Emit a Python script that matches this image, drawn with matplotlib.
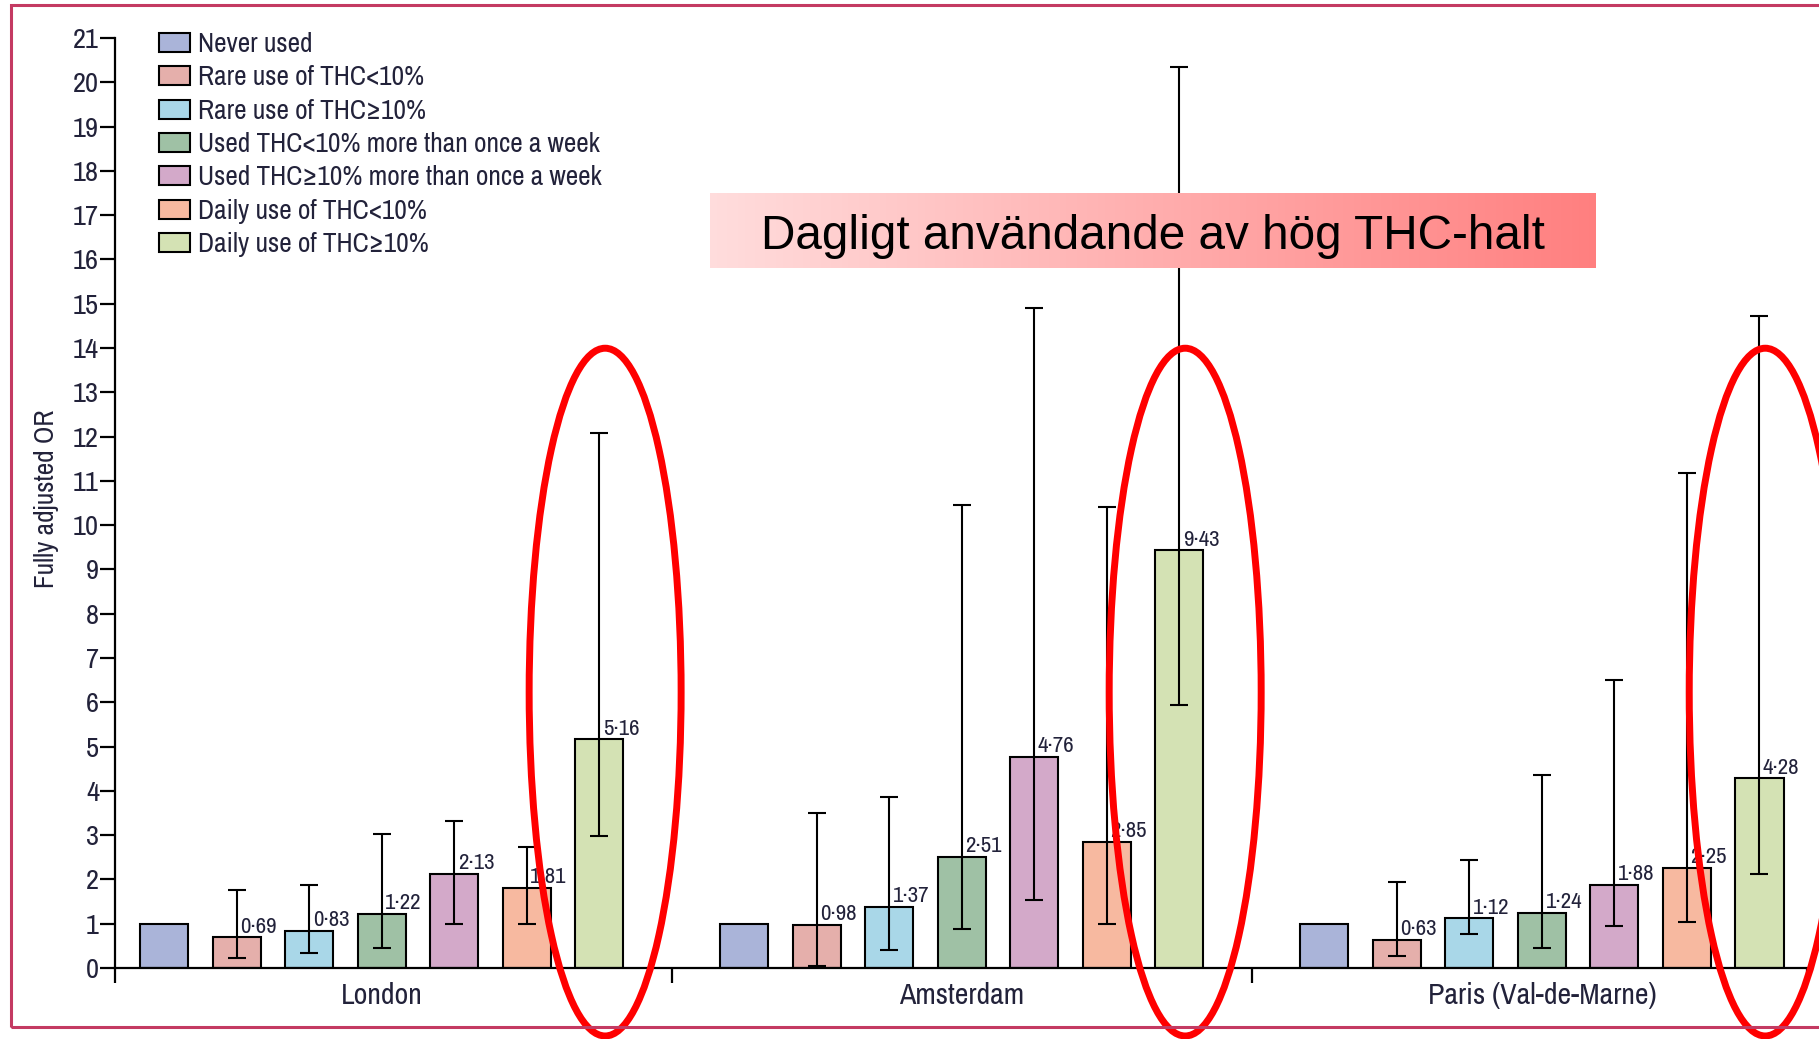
import numpy as np
import matplotlib
matplotlib.use("Agg")
import matplotlib.pyplot as plt
from matplotlib.patches import Ellipse, Rectangle, Patch
from matplotlib import font_manager as fm

# ---------------- data ----------------
cities = ["London", "Amsterdam", "Paris (Val-de-Marne)"]
series = ["Never used", "Rare use of THC<10%", "Rare use of THC\u226510%",
          "Used THC<10% more than once a week", "Used THC\u226510% more than once a week",
          "Daily use of THC<10%", "Daily use of THC\u226510%"]
colors = ["#AAB4D9", "#E5AFAB", "#A9D7E8", "#9FC1A5", "#D3A9C9", "#F7B9A0", "#D4E2B4"]

or_london = [1.00, 0.69, 0.83, 1.22, 2.13, 1.81, 5.16]
lo_london = [np.nan, 0.22, 0.35, 0.46, 1.00, 1.00, 2.97]
hi_london = [np.nan, 1.77, 1.88, 3.03, 3.32, 2.73, 12.08]

or_amsterdam = [1.00, 0.98, 1.37, 2.51, 4.76, 2.85, 9.43]
lo_amsterdam = [np.nan, 0.05, 0.41, 0.88, 1.53, 1.00, 5.95]
hi_amsterdam = [np.nan, 3.50, 3.87, 10.45, 14.90, 10.40, 20.35]

or_paris = [1.00, 0.63, 1.12, 1.24, 1.88, 2.25, 4.28]
lo_paris = [np.nan, 0.26, 0.76, 0.46, 0.94, 1.05, 2.12]
hi_paris = [np.nan, 1.95, 2.44, 4.35, 6.50, 11.18, 14.72]

yticks = list(range(0, 22))
annotation = "Dagligt anv\u00e4ndande av h\u00f6g THC-halt"

ORs = np.array([or_london, or_amsterdam, or_paris])
LOs = np.array([lo_london, lo_amsterdam, lo_paris])
HIs = np.array([hi_london, hi_amsterdam, hi_paris])

# ---------------- fonts ----------------
avail = {f.name for f in fm.fontManager.ttflist}
cands = sorted(n for n in avail if ("Narrow" in n or "Condensed" in n))
narrow = cands[0] if cands else None
base = narrow if narrow else "Liberation Sans"
scale = 1.0 if narrow else 0.86
plt.rcParams["font.family"] = [base, "DejaVu Sans"]
txtc = "#22223a"
fw = "medium"

W, H = 1819, 1039
fig = plt.figure(figsize=(W / 100, H / 100), dpi=100)
ax = fig.add_axes([115 / W, 1 - 968 / H, (1807 - 115) / W, (968 - 38) / H])

gx = np.arange(len(cities))
step = 0.125
bw = 0.083
for k in range(len(series)):
    x = gx + (k - 3) * step
    ax.bar(x, ORs[:, k], width=bw, color=colors[k], edgecolor="black",
           linewidth=1.5, zorder=2, label=series[k])
    if k > 0:
        yerr = np.vstack([ORs[:, k] - LOs[:, k], HIs[:, k] - ORs[:, k]])
        ax.errorbar(x, ORs[:, k], yerr=yerr, fmt="none", ecolor="black",
                    elinewidth=1.5, capsize=6.5, capthick=1.5, zorder=3)
        for xi, v in zip(x, ORs[:, k]):
            ax.text(xi + 0.006, v + 0.02, f"{v:.2f}".replace(".", "\u00b7"),
                    ha="left", va="bottom", fontsize=16.5 * scale, color=txtc,
                    fontweight=fw, zorder=4)

# ellipses around the last category of each city
for gi in gx:
    ax.add_patch(Ellipse((gi + 3 * step + 0.01, 6.23), width=0.262, height=15.53,
                         fill=False, edgecolor="#ff0000", linewidth=5,
                         clip_on=False, zorder=6))

ax.set_xlim(-0.460, 2.457)
ax.set_ylim(0, 21)
for s in ["top", "right"]:
    ax.spines[s].set_visible(False)
for s in ["left", "bottom"]:
    ax.spines[s].set_linewidth(1.6)
ax.set_yticks(yticks)
ax.set_yticklabels([str(t) for t in yticks], fontsize=20.5 * (1.0 if narrow else 0.95),
                   color=txtc, fontweight=fw)
ax.tick_params(axis="y", direction="out", length=10.5, width=1.6, pad=1)
ax.set_xticks([-0.4599, 0.5, 1.5, 2.4569])
ax.set_xticklabels([])
ax.tick_params(axis="x", direction="out", length=10.5, width=1.6)
for gi, name in zip(gx, cities):
    ax.text(gi, -0.61, name, ha="center", va="center", fontsize=21.5 * scale,
            color=txtc, fontweight=fw)
ax.set_ylabel("Fully adjusted OR", fontsize=19.7 * scale, color=txtc, fontweight=fw)
ax.yaxis.set_label_coords(59 / W, 1 - 499 / H, transform=fig.transFigure)

handles = [Patch(facecolor=c, edgecolor="black", linewidth=1.5) for c in colors]
lfs = 19.7 * scale
lpx = lfs * 100 / 72
ax.legend(handles, series, loc="upper left", bbox_to_anchor=(159 / W, 1 - 32 / H),
          bbox_transform=fig.transFigure, frameon=False,
          prop={"size": lfs, "weight": fw},
          handlelength=31 / lpx, handleheight=19 / lpx, handletextpad=0.3,
          labelspacing=(32 - 0.864 * lpx) / lpx, borderpad=0, borderaxespad=0,
          labelcolor=txtc)

# gradient annotation box
bx = fig.add_axes([710 / W, 1 - 268 / H, 885 / W, 75 / H], zorder=10)
grad = np.linspace(0, 1, 256)
c0 = np.array([1.0, 0.865, 0.865])
c1 = np.array([1.0, 0.50, 0.50])
img = (c0[None, :] * (1 - grad[:, None]) + c1[None, :] * grad[:, None])[None, :, :]
bx.imshow(img, aspect="auto", extent=(0, 1, 0, 1))
bx.set_xlim(0, 1)
bx.set_ylim(0, 1)
bx.axis("off")
bx.text(0.5, 0.255, annotation, ha="center", va="baseline", fontsize=34.4,
        family=["Liberation Sans", "DejaVu Sans"], color="black")

# figure border
fig.patches.append(Rectangle((11 / W, 1 - 1027 / H), 1.2, (1027 - 5) / H,
                             transform=fig.transFigure, fill=False,
                             edgecolor="#C43A62", linewidth=2.2, zorder=20))

fig.savefig("out.png", dpi=100)
